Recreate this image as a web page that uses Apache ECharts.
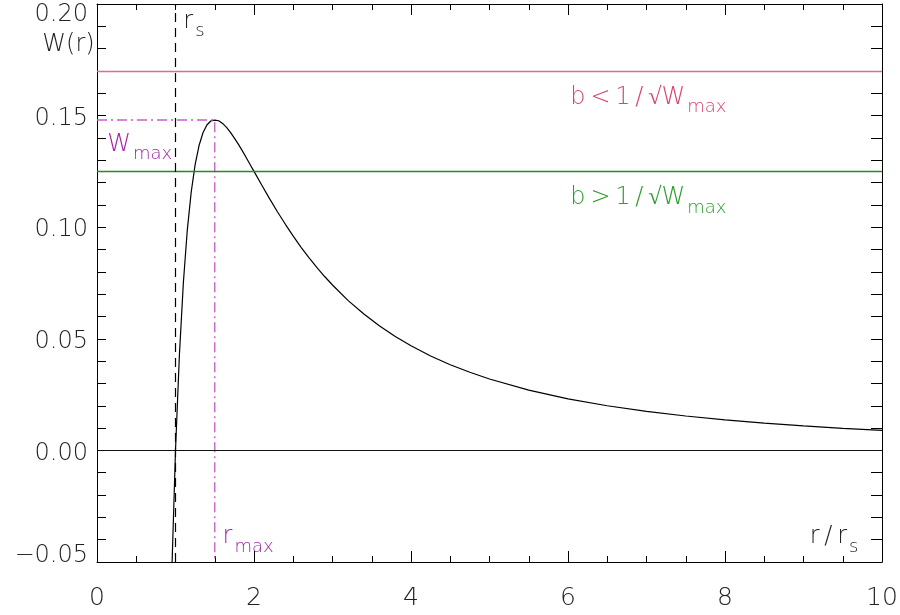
<!DOCTYPE html>
<html>
<head>
<meta charset="utf-8">
<script src="https://cdn.jsdelivr.net/npm/echarts@6/dist/echarts.min.js"></script>
<style>
  html, body { margin: 0; padding: 0; background: #fff; }
  #chart { width: 900px; height: 615px; }
</style>
</head>
<body>
<div id="chart"></div>
<script>
// r / r_s and W(r)
const rValues = [0.95, 1.0, 1.05, 1.1, 1.15, 1.2, 1.25, 1.3, 1.35, 1.4, 1.45, 1.5, 1.55, 1.6, 1.65, 1.7, 1.75, 1.8, 1.85, 1.9, 1.95, 2.0,
    2.1, 2.2, 2.3, 2.4, 2.5, 2.6, 2.7, 2.8, 2.9, 3.0, 3.2, 3.4, 3.6, 3.8, 4.0, 4.25, 4.5, 4.75, 5.0,
    5.5, 6.0, 6.5, 7.0, 7.5, 8.0, 8.5, 9.0, 9.5, 10.0];
const wValues = [-0.058, 0.0, 0.043, 0.075, 0.0986, 0.1157, 0.128, 0.1366, 0.1423, 0.1458, 0.1476, 0.148, 0.1477, 0.1465, 0.1447, 0.1425, 0.1399, 0.1372, 0.1343, 0.1312, 0.1281, 0.125,
    0.1188, 0.1127, 0.1068, 0.1013, 0.096, 0.091, 0.0864, 0.082, 0.0779, 0.0741, 0.0671, 0.0611, 0.0557, 0.051, 0.0469, 0.0423, 0.0384, 0.035, 0.032,
    0.027, 0.0231, 0.020, 0.0175, 0.0154, 0.0137, 0.0122, 0.011, 0.0099, 0.009];

const xTicks = [0, 2, 4, 6, 8, 10];
const yTicks = [-0.05, 0.0, 0.05, 0.10, 0.15, 0.20];

const wMax = 0.148;
const rMax = 1.5;
const rs = 1.0;
const bLowLevel = 0.17;   // pink, b < 1/sqrt(Wmax)
const bHighLevel = 0.125; // green, b > 1/sqrt(Wmax)

const FONT = 'DejaVu Sans';
const WEIGHT = 200;
const PINK_LINE = '#d86e93';
const PINK_TEXT = '#d8446f';
const GREEN_LINE = '#228b22';
const GREEN_TEXT = '#2a9d2a';
const MAG_LINE = '#c860c8';
const MAG_TEXT = '#a424a4';

const chart = echarts.init(document.getElementById('chart'));

const curve = rValues.map((r, i) => [r, wValues[i]]);

const nearestTick = v => yTicks.reduce((a, b) => Math.abs(b - v) < Math.abs(a - v) ? b : a);
const fmtY = v => {
    const t = nearestTick(v);
    const s = (t < 0 ? '\u2212' : '') + Math.abs(t).toFixed(2);
    if (t === yTicks[yTicks.length - 1]) return '{top|' + s + '}';
    if (t === yTicks[0]) return '{bot|' + s + '}';
    return '{mid|' + s + '}';
};

const labelText = { fontFamily: FONT, fontWeight: WEIGHT, fontSize: 24, color: '#222' };

const baseAxis = {
    axisLine: { show: true, onZero: false, lineStyle: { color: '#000', width: 1 } },
    splitLine: { show: false },
};

const option = {
    animation: false,
    backgroundColor: '#fff',
    grid: { left: 97, right: 18, top: 4, bottom: 53, outerBoundsMode: 'none', containLabel: false },
    xAxis: [
        {
            ...baseAxis,
            type: 'value', min: 0, max: 10, interval: 2,
            axisTick: { inside: true, length: 11, lineStyle: { color: '#000' } },
            minorTick: { show: true, splitNumber: 4, length: 6, lineStyle: { color: '#000' } },
            axisLabel: { ...labelText, fontSize: 25, margin: 24,
                formatter: v => xTicks.includes(v) ? String(v) : '' }
        },
        {
            ...baseAxis,
            type: 'value', min: 0, max: 10, interval: 2, position: 'top',
            axisTick: { inside: true, length: 11, lineStyle: { color: '#000' } },
            minorTick: { show: true, splitNumber: 4, length: 6, lineStyle: { color: '#000' } },
            axisLabel: { show: false }
        }
    ],
    yAxis: [
        {
            ...baseAxis,
            type: 'value', min: -0.05, max: 0.20, interval: 0.05,
            axisTick: { inside: true, length: 9, lineStyle: { color: '#000' } },
            minorTick: { show: true, splitNumber: 5, length: 9, lineStyle: { color: '#000' } },
            axisLabel: { ...labelText, margin: 9, formatter: fmtY,
                rich: {
                    top: { ...labelText, padding: [22, 0, 0, 0] },
                    mid: { ...labelText, padding: [6, 0, 0, 0] },
                    bot: { ...labelText, padding: [0, 0, 12, 0] }
                }
            }
        },
        {
            ...baseAxis,
            type: 'value', min: -0.05, max: 0.20, interval: 0.05, position: 'right',
            axisTick: { inside: true, length: 11, lineStyle: { color: '#000' } },
            minorTick: { show: true, splitNumber: 5, length: 11, lineStyle: { color: '#000' } },
            axisLabel: { show: false }
        }
    ],
    series: [
        {
            type: 'line',
            data: curve,
            symbol: 'none',
            clip: true,
            lineStyle: { color: '#000', width: 1.2 },
            markLine: {
                silent: true,
                symbol: 'none',
                precision: 4,
                label: { show: false },
                data: [
                    { yAxis: bLowLevel, lineStyle: { color: PINK_LINE, width: 1.3, type: 'solid' } },
                    { yAxis: bHighLevel, lineStyle: { color: GREEN_LINE, width: 1.4, type: 'solid' } },
                    { yAxis: 0, lineStyle: { color: '#111', width: 1.1, type: 'solid' } },
                    { xAxis: rs, lineStyle: { color: '#000', width: 1.2, type: [9, 6] } }
                ]
            }
        },
        {
            type: 'line',
            data: [[0, wMax], [rMax, wMax], [rMax, -0.05]],
            symbol: 'none',
            lineStyle: { color: MAG_LINE, width: 1.4, type: [10, 4, 2, 4] }
        }
    ]
};

chart.setOption(option);

const px = (x, y) => chart.convertToPixel({ gridIndex: 0 }, [x, y]);

const subRich = color => ({
    n: { fontFamily: FONT, fontWeight: WEIGHT, fontSize: 24, color: color, lineHeight: 28, verticalAlign: 'bottom' },
    s: { fontFamily: FONT, fontWeight: WEIGHT, fontSize: 18, color: color, lineHeight: 28, verticalAlign: 'bottom', padding: [0, 0, -7, 2] }
});

function label(x, y, text, color, align) {
    const p = px(x, y);
    return {
        type: 'text', x: p[0], y: p[1], silent: true,
        style: { text: text, rich: subRich(color), align: align || 'left', verticalAlign: 'middle',
            fontFamily: FONT, fontSize: 24, fill: color }
    };
}

const sp = '\u2009';
chart.setOption({
    graphic: [
        label(-0.03, 0.1825, '{n|W(r)}', '#222', 'right'),
        label(1.1, 0.193, '{n|r}{s|s}', '#222'),
        label(9.7, -0.038, '{n|r' + sp + '/' + sp + 'r}{s|s}', '#222', 'right'),
        label(0.13, 0.138, '{n|W}{s|max}', MAG_TEXT),
        label(1.6, -0.038, '{n|r}{s|max}', MAG_TEXT),
        label(6.03, 0.159, '{n|b' + sp + '<' + sp + '1' + sp + '/' + sp + '\u221AW}{s|max}', PINK_TEXT),
        label(6.03, 0.114, '{n|b' + sp + '>' + sp + '1' + sp + '/' + sp + '\u221AW}{s|max}', GREEN_TEXT)
    ]
});
</script>
</body>
</html>
